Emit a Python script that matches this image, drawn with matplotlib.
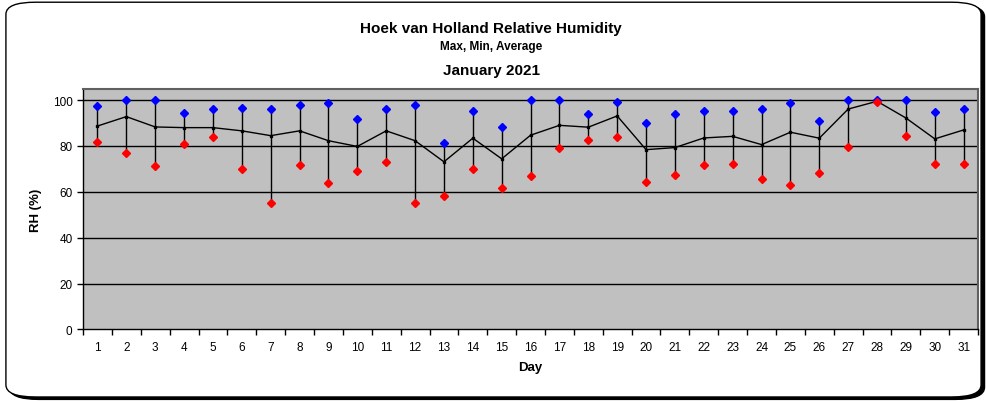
import matplotlib.pyplot as plt
from matplotlib.patches import FancyBboxPatch
import numpy as np

plt.rcParams['font.family'] = ['Liberation Sans', 'DejaVu Sans']

# Daily relative humidity, Hoek van Holland, January 2021
days = list(range(1, 32))
rh_max = [97.3, 100, 100, 94.4, 96.1, 96.4, 96.1, 98.0, 98.9, 91.6,
          96.1, 98.0, 81.2, 95.4, 88.3, 100, 100, 93.8, 99.0, 90.0,
          94.0, 95.3, 95.1, 96.3, 98.9, 90.9, 100, 100, 100, 95.0, 96.0]
rh_min = [81.9, 76.8, 71.3, 80.9, 83.9, 70.0, 55.1, 71.6, 63.9, 68.9,
          72.8, 55.2, 58.0, 69.9, 61.5, 67.0, 79.2, 82.8, 83.9, 64.2,
          67.4, 71.8, 72.3, 65.8, 62.9, 68.0, 79.6, 99.0, 84.2, 72.1, 72.3]
rh_avg = [88.7, 92.8, 88.3, 88.0, 88.0, 86.6, 84.5, 86.6, 82.3, 79.8,
          86.6, 82.3, 73.1, 83.4, 74.4, 84.7, 89.0, 88.2, 93.1, 78.4,
          79.3, 83.5, 84.2, 80.6, 86.0, 83.4, 96.1, 99.5, 92.2, 83.1, 87.0]

fig = plt.figure(figsize=(9.86, 4.02), dpi=100)

# rounded outer frame with a shadow at bottom/right
shadow = FancyBboxPatch((0.0095, 0.004), 0.989, 0.982, transform=fig.transFigure,
                        boxstyle="round,pad=0,rounding_size=0.03",
                        facecolor='black', edgecolor='black', lw=1, zorder=-2)
frame = FancyBboxPatch((0.006, 0.010), 0.989, 0.982, transform=fig.transFigure,
                       boxstyle="round,pad=0,rounding_size=0.03",
                       facecolor='white', edgecolor='black', lw=1, zorder=-1)
fig.patches.extend([shadow, frame])

ax = fig.add_axes([0.0842, 0.178, 0.9078, 0.599])
ax.set_facecolor('#C0C0C0')

x = np.array(days)
ax.vlines(x, rh_min, rh_max, colors='black', lw=1, zorder=2)
ax.plot(x, rh_avg, color='black', lw=1, marker='s', markersize=2, zorder=3)
ax.plot(x, rh_max, linestyle='none', marker='D', markersize=4.5,
        color='#0000FF', zorder=4)
ax.plot(x, rh_min, linestyle='none', marker='D', markersize=4.5,
        color='#FF0000', zorder=4)

ax.set_xlim(0.5, 31.5)
ax.set_ylim(0, 105)
ax.set_yticks([0, 20, 40, 60, 80, 100])
for v in [20, 40, 60, 80, 100]:
    ax.axhline(v, color='black', lw=1, zorder=1)

ax.set_xticks(np.arange(0.5, 32, 1.0))
ax.set_xticklabels([])
ax.set_xticks(x, minor=True)
ax.set_xticklabels([str(d) for d in days], minor=True, fontsize=8.5)
ax.tick_params(axis='x', which='minor', length=0, pad=8)
ax.tick_params(axis='x', which='major', length=4, direction='out', width=1)
ax.tick_params(axis='y', length=4, direction='out', labelsize=8.5, width=1)

for s in ['left', 'bottom']:
    ax.spines[s].set_color('black')
    ax.spines[s].set_linewidth(1)
for s in ['top', 'right']:
    ax.spines[s].set_color('#606060')
    ax.spines[s].set_linewidth(1.5)

ax.set_xlabel('Day', fontsize=9.5, fontweight='bold', labelpad=6)
ax.set_ylabel('RH (%)', fontsize=9.5, fontweight='bold', labelpad=8)

fig.text(0.498, 0.928, 'Hoek van Holland Relative Humidity', ha='center',
         va='center', fontsize=11, fontweight='bold')
fig.text(0.498, 0.884, 'Max, Min, Average', ha='center', va='center',
         fontsize=8.5, fontweight='bold')
fig.text(0.498, 0.824, 'January 2021', ha='center', va='center',
         fontsize=11, fontweight='bold')

fig.savefig('out.png', dpi=100)
